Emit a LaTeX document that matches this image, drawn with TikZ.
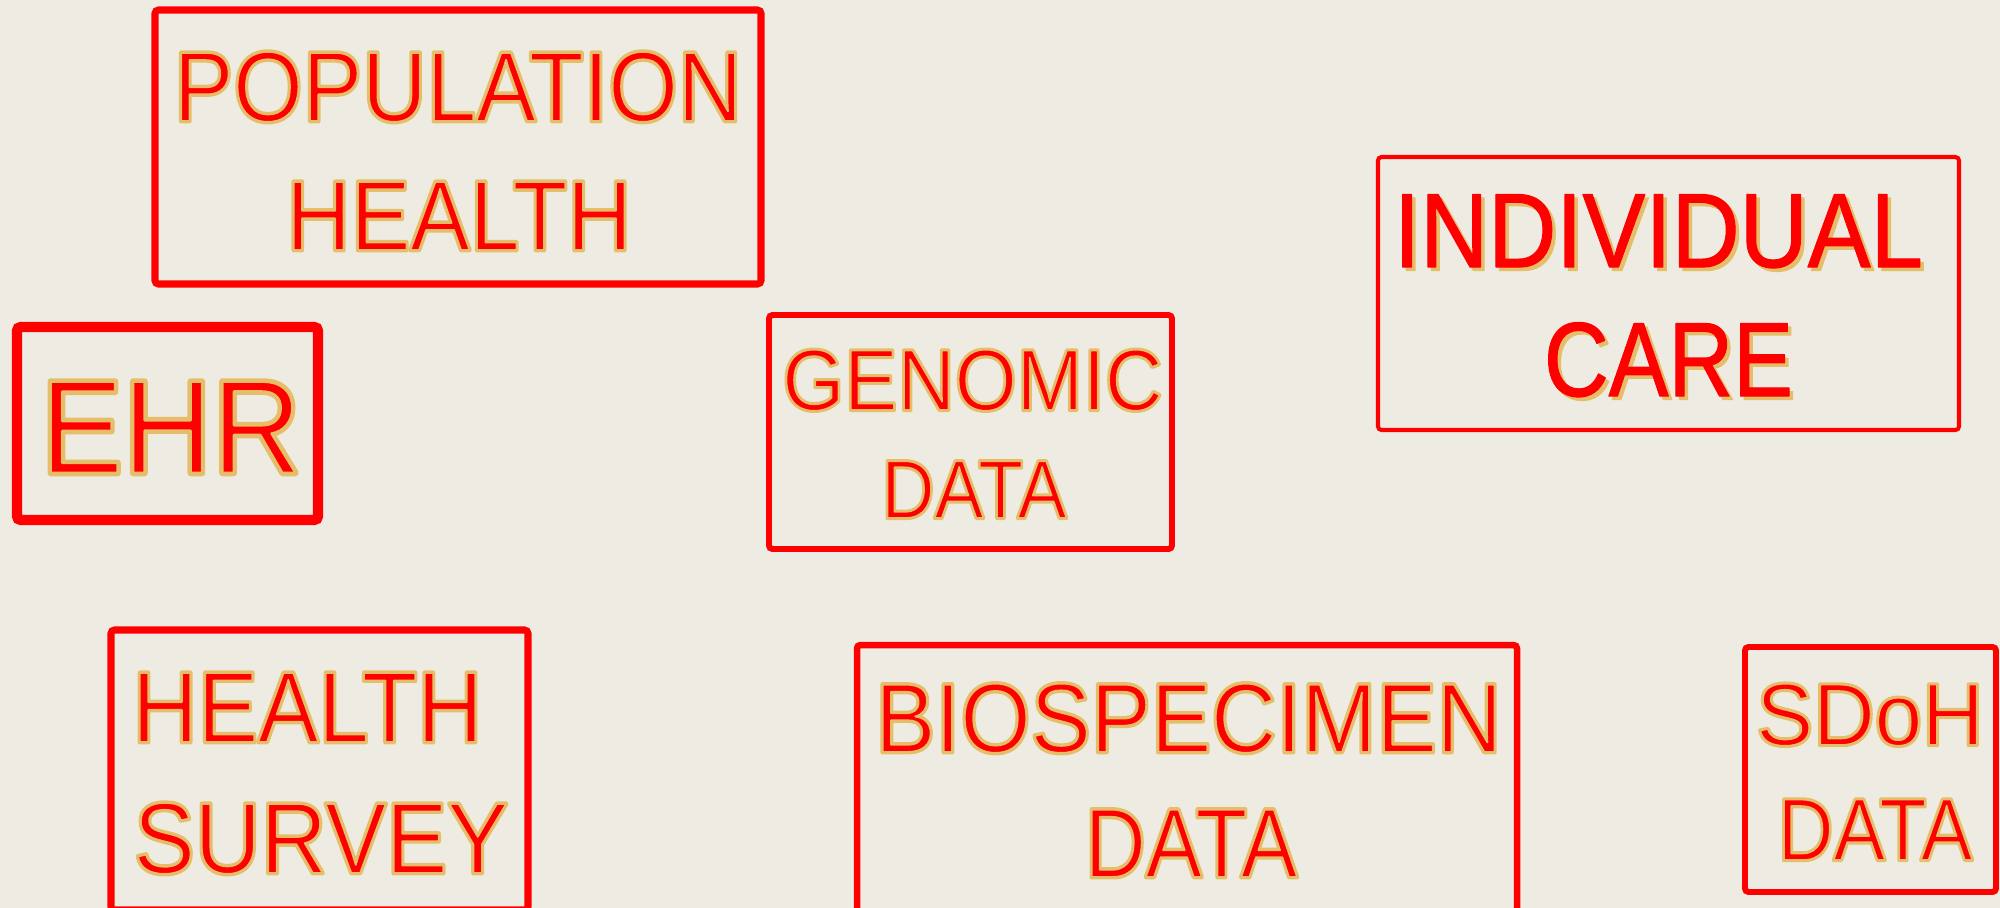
\documentclass[tikz,border=0pt]{standalone}
\usepackage{fontspec}
\usepackage{graphicx}
\usepackage{tikz}
\newfontfamily\boxfont{Liberation Sans}
\definecolor{boxred}{HTML}{FF0000}
\definecolor{tanline}{HTML}{E6BE6A}
\definecolor{paper}{HTML}{EEEBE3}
% red capitals with a tan rim: wide tan stroke below, red fill with a thin tan stroke on top
\newcommand{\outl}[4][0.9]{\scalebox{#1}[1]{\rlap{\special{pdf:literal direct 0.902 0.745 0.416 RG #2 w 1 j 1 Tr}#4}\special{pdf:literal direct 0.902 0.745 0.416 RG #3 w 1 j 2 Tr}#4\special{pdf:literal direct 0 Tr}}}
\newcommand{\dropshadow}[2][0.9]{\special{pdf:literal direct 0.35 w 1 j 2 Tr}\rlap{\kern0.035cm\raisebox{-0.035cm}{\color{tanline}\scalebox{#1}[1]{#2}}}\scalebox{#1}[1]{#2}\special{pdf:literal direct 0 Tr}}
\tikzset{
	box/.style={draw=boxred,rounded corners=1pt,inner sep=0pt,outer sep=0pt},
	lbl/.style={text=boxred,inner sep=0pt,anchor=base},
	fs/.style={font=\boxfont\fontsize{#1}{#1}\selectfont}
}

\begin{document}
\begin{tikzpicture}[x=0.1mm,y=-0.1mm]
	\fill[paper] (0,0) rectangle (2000,908);
	\useasboundingbox (0,0) rectangle (2000,908);
	% frames
	\node [box,line width=2pt,minimum width=6.06cm,minimum height=2.74cm] (pop) at (458,147) {};
	\node [box,line width=2.85pt,minimum width=3.01cm,minimum height=1.93cm] (ehr) at (167.5,423.5) {};
	\node [box,line width=1.7pt,minimum width=4.03cm,minimum height=2.34cm] (gen) at (970.5,432) {};
	\node [box,line width=1.15pt,minimum width=5.81cm,minimum height=2.73cm] (ind) at (1668.5,293.5) {};
	\node [box,line width=2pt,minimum width=4.17cm,minimum height=2.80cm] (svy) at (319.5,770) {};
	\node [box,line width=1.85pt,minimum width=6.60cm,minimum height=2.67cm] (bio) at (1187,778.5) {};
	\node [box,line width=1.7pt,minimum width=2.51cm,minimum height=2.45cm] (sdoh) at (1870.5,769.5) {};
	% labels
	\node [lbl,fs=28.2] (pop1) at (458,121) {\outl{1.4}{0.55}{POPULATION}};
	\node [lbl,fs=28.2] (pop2) at (459,250) {\outl{1.4}{0.55}{HEALTH}};
	\node [lbl,fs=37.8] (ehr1) at (171,473) {\outl[0.93]{1.9}{0.75}{EHR}};
	\node [lbl,fs=24.6] (gen1) at (972.5,410) {\outl[0.92]{1.2}{0.5}{GENOMIC}};
	\node [lbl,fs=23.5] (gen2) at (974,518) {\outl[0.89]{1.2}{0.5}{DATA}};
	\node [lbl,fs=30] (ind1) at (1658.5,267) {\dropshadow[0.894]{INDIVIDUAL}};
	\node [lbl,fs=30] (ind2) at (1668.5,396) {\dropshadow[0.85]{CARE}};
	\node [lbl,fs=28.6] (svy1) at (307.5,742) {\outl[0.9]{1.4}{0.55}{HEALTH}};
	\node [lbl,fs=28.6] (svy2) at (321,873) {\outl[0.91]{1.4}{0.55}{SURVEY}};
	\node [lbl,fs=27.9] (bio1) at (1188.5,752) {\outl[0.92]{1.4}{0.55}{BIOSPECIMEN}};
	\node [lbl,fs=27.9] (bio2) at (1191,877) {\outl[0.86]{1.4}{0.55}{DATA}};
	\node [lbl,fs=25] (sdoh1) at (1870,745) {\outl[0.97]{1.25}{0.5}{SDoH}};
	\node [lbl,fs=25] (sdoh2) at (1875,860) {\outl[0.88]{1.25}{0.5}{DATA}};
\end{tikzpicture}
\end{document}
